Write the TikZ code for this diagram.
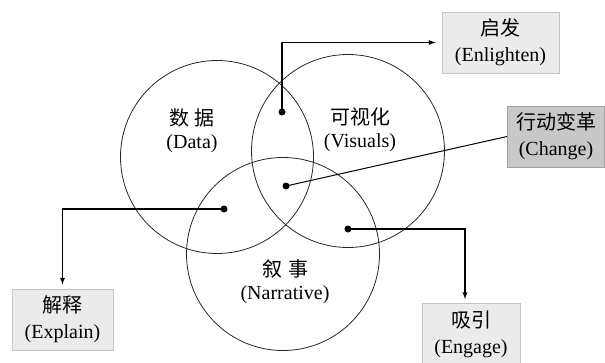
\documentclass[tikz,border=0pt]{standalone}
\usepackage{fontspec}
\setmainfont{Liberation Serif}
\newfontfamily\cjk{Noto Sans CJK SC}
\definecolor{boxgray}{HTML}{EBEBEB}
\definecolor{boxline}{HTML}{C4C4C4}
\definecolor{darkbox}{HTML}{C8C8C8}
\definecolor{darkline}{HTML}{A2A2A2}
\tikzset{
  setcircle/.style={circle,draw=black!85,line width=0.8pt,minimum size=193pt,inner sep=0pt},
  setlabel/.style={align=center,font=\fontsize{20}{23}\selectfont},
  outcome/.style={setlabel,draw=boxline,fill=boxgray,line width=1pt,inner sep=0pt,font=\fontsize{20}{26}\selectfont},
  dot/.style={circle,fill=black,inner sep=0pt,minimum size=7pt},
  pointer/.style={-latex,line width=1.3pt}
}
\begin{document}
\begin{tikzpicture}[x=1pt,y=-1pt]
  \useasboundingbox (0,0) rectangle (605,362);
  % the three sets
  \node[setcircle] (data)      at (217,157) {};
  \node[setcircle] (visuals)   at (348,151) {};
  \node[setcircle] (narrative) at (283,254) {};
  \node[setlabel] (datalabel)      at (192,131) {{\cjk 数\hspace{6pt}据}\\(Data)};
  \node[setlabel] (visualslabel)   at (360,130) {{\cjk 可视化}\\(Visuals)};
  \node[setlabel] (narrativelabel) at (285,282) {{\cjk 叙\hspace{6pt}事}\\(Narrative)};
  % overlaps
  \node[dot] (dv)  at (282,112) {};
  \node[dot] (dvn) at (286,186) {};
  \node[dot] (dn)  at (224,209) {};
  \node[dot] (vn)  at (348,229) {};
  % outcomes
  \node[outcome,minimum width=117pt,minimum height=61pt] (enlighten) at (500.5,42.5) {{\cjk 启发}\\(Enlighten)};
  \node[outcome,draw=darkline,fill=darkbox,minimum width=97pt,minimum height=61pt] (change) at (556,136.5) {{\cjk 行动变革}\\(Change)};
  \node[outcome,minimum width=101pt,minimum height=61pt] (explain) at (62.5,319.5) {{\cjk 解释}\\(Explain)};
  \node[outcome,minimum width=98pt,minimum height=62pt] (engage) at (471,334) {{\cjk 吸引}\\(Engage)};
  % connectors
  \draw[pointer,shorten >=6pt] (dv.center) |- (enlighten.west);
  \draw[line width=1pt] (dvn.center) -- (change.west);
  \draw[pointer,shorten >=4pt] (dn.center) -| (explain.north);
  \coordinate (engagetop) at (465,303);
  \draw[pointer,shorten >=4pt] (vn.center) -| (engagetop);
\end{tikzpicture}
\end{document}
